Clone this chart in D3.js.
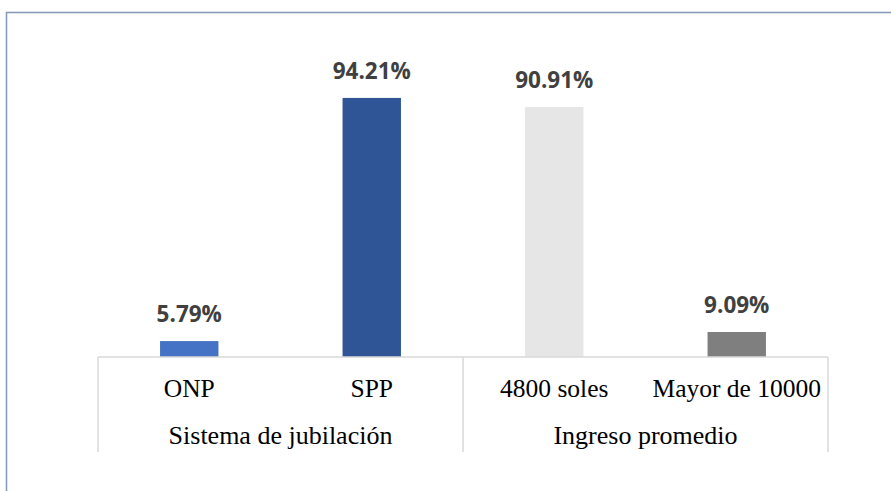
<!DOCTYPE html>
<html>
<head>
<meta charset="utf-8">
<script src="https://cdn.jsdelivr.net/npm/d3@7"></script>
<style>
  body { margin: 0; background: #fff; }
</style>
</head>
<body>
<svg id="chart" width="891" height="491"></svg>
<script>
// data
var categories = ["ONP", "SPP", "4800 soles", "Mayor de 10000"];
var values = [5.79, 94.21, 90.91, 9.09];
var groups = ["Sistema de jubilación", "Ingreso promedio"];
var groupSize = [2, 2];
var barColors = ["#4472C4", "#2F5597", "#E7E6E6", "#7F7F7F"];

var width = 891, height = 491;
var left = 98, right = 828, base = 357;

var svg = d3.select("#chart");

// outer frame (runs off the right and bottom edges)
svg.append("rect")
  .attr("x", 6.5).attr("y", 12.5)
  .attr("width", 1000).attr("height", 1000)
  .attr("fill", "none")
  .attr("stroke", "#8499B6")
  .attr("stroke-width", 1.5);

var x = d3.scaleBand()
  .domain(categories)
  .range([left, right])
  .paddingInner(0.68)
  .paddingOuter(0.34);

var y = d3.scaleLinear()
  .domain([0, 100])
  .range([base, 82]);

var bars = svg.append("g");
bars.selectAll("rect")
  .data(values)
  .join("rect")
  .attr("x", function(d, i) { return x(categories[i]); })
  .attr("y", function(d) { return y(d); })
  .attr("width", x.bandwidth())
  .attr("height", function(d) { return base - y(d); })
  .attr("fill", function(d, i) { return barColors[i]; });

// value labels
bars.selectAll("text")
  .data(values)
  .join("text")
  .attr("x", function(d, i) { return x(categories[i]) + x.bandwidth() / 2; })
  .attr("y", function(d) { return y(d) - 19; })
  .attr("text-anchor", "middle")
  .attr("font-family", "'Open Sans', sans-serif")
  .attr("font-weight", "bold")
  .attr("font-size", "22.5px")
  .attr("fill", "#404040")
  .text(function(d) { return d.toFixed(2) + "%"; });

// category axis with two levels
var axis = svg.append("g");
var lineColor = "#D9D9D9";
axis.append("line")
  .attr("x1", left).attr("x2", right)
  .attr("y1", base).attr("y2", base)
  .attr("stroke", lineColor).attr("stroke-width", 1.5);

// group separators
var edges = [left];
var acc = 0;
groupSize.forEach(function(n) { acc += n; edges.push(left + (right - left) * acc / categories.length); });

axis.selectAll("line.sep")
  .data(edges)
  .join("line")
  .attr("class", "sep")
  .attr("x1", function(d) { return d; }).attr("x2", function(d) { return d; })
  .attr("y1", base).attr("y2", 452)
  .attr("stroke", lineColor).attr("stroke-width", 1.5);

axis.selectAll("text.cat")
  .data(categories)
  .join("text")
  .attr("class", "cat")
  .attr("x", function(d) { return x(d) + x.bandwidth() / 2; })
  .attr("y", 397)
  .attr("text-anchor", "middle")
  .attr("font-family", "'Liberation Serif', serif")
  .attr("font-size", "25.5px")
  .attr("fill", "#000")
  .text(function(d) { return d; });

axis.selectAll("text.grp")
  .data(groups)
  .join("text")
  .attr("class", "grp")
  .attr("x", function(d, i) { return (edges[i] + edges[i + 1]) / 2; })
  .attr("y", 444)
  .attr("text-anchor", "middle")
  .attr("font-family", "'Liberation Serif', serif")
  .attr("font-size", "26px")
  .attr("fill", "#000")
  .text(function(d) { return d; });
</script>
</body>
</html>
